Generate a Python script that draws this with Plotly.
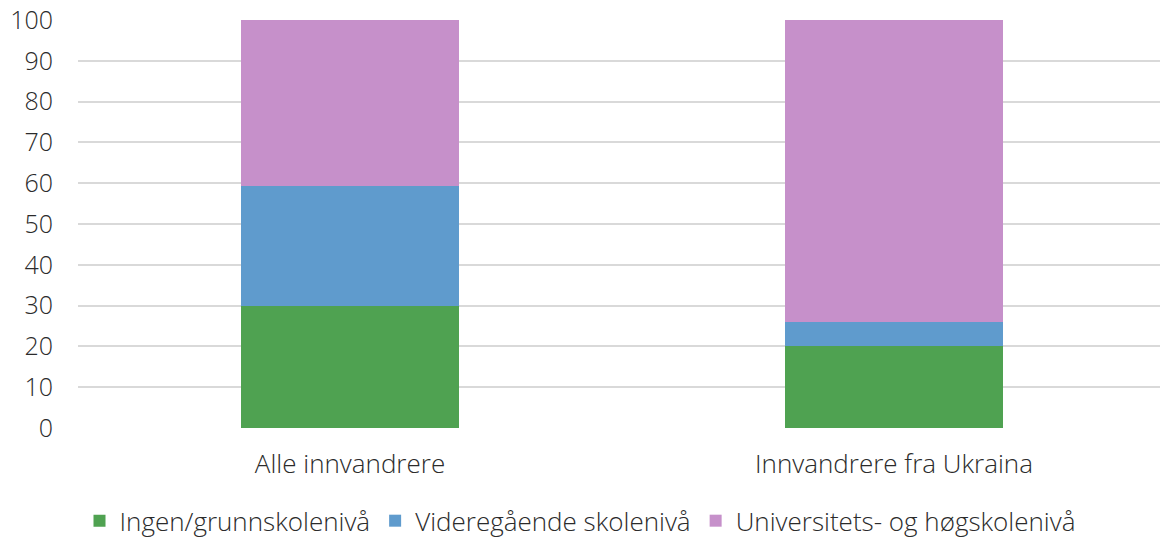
import plotly.graph_objects as go

categories = ["Alle innvandrere", "Innvandrere fra Ukraina"]
series_names = ["Ingen/grunnskolenivå", "Videregående skolenivå", "Universitets- og høgskolenivå"]
ingen = [29.8, 20.0]
vgs = [29.5, 6.1]
uni = [40.7, 73.9]
colors = ["#4FA251", "#5F9BCD", "#C690CA"]
y_ticks = [0, 10, 20, 30, 40, 50, 60, 70, 80, 90, 100]

fig = go.Figure()
for name, vals, col in zip(series_names, [ingen, vgs, uni], colors):
    fig.add_trace(go.Bar(x=categories, y=vals, name=name, marker=dict(color=col, line=dict(width=0)),
                         width=0.4))

font_family = "'Open Sans', sans-serif"
tf = dict(family=font_family, size=26, color="#2B2B2B", weight=300)
yf = dict(family=font_family, size=25, color="#2B2B2B", weight=300)
fig.update_layout(
    barmode="stack",
    width=1160, height=538,
    margin=dict(l=78, r=0, t=20, b=110),
    plot_bgcolor="white", paper_bgcolor="white",
    font=tf,
    xaxis=dict(range=[-0.5, 1.489], showgrid=False, showline=False, ticks="", automargin=False,
               ticklabelstandoff=18, tickfont=tf),
    yaxis=dict(range=[0, 100], tickvals=y_ticks, showgrid=True, gridcolor="#D9D9D9", gridwidth=2,
               zeroline=False, showline=False, ticks="", ticklabelstandoff=24, automargin=False,
               ticklabeloverflow="allow", tickfont=yf),
    legend=dict(orientation="h", x=0.5, xref="container", xanchor="center",
                y=0.032, yref="container", yanchor="middle",
                font=tf, traceorder="normal", itemwidth=30),
)
fig.write_html("out.html", config={"displayModeBar": False},
               post_script="document.body.style.margin='0';document.body.style.overflow='hidden';")
